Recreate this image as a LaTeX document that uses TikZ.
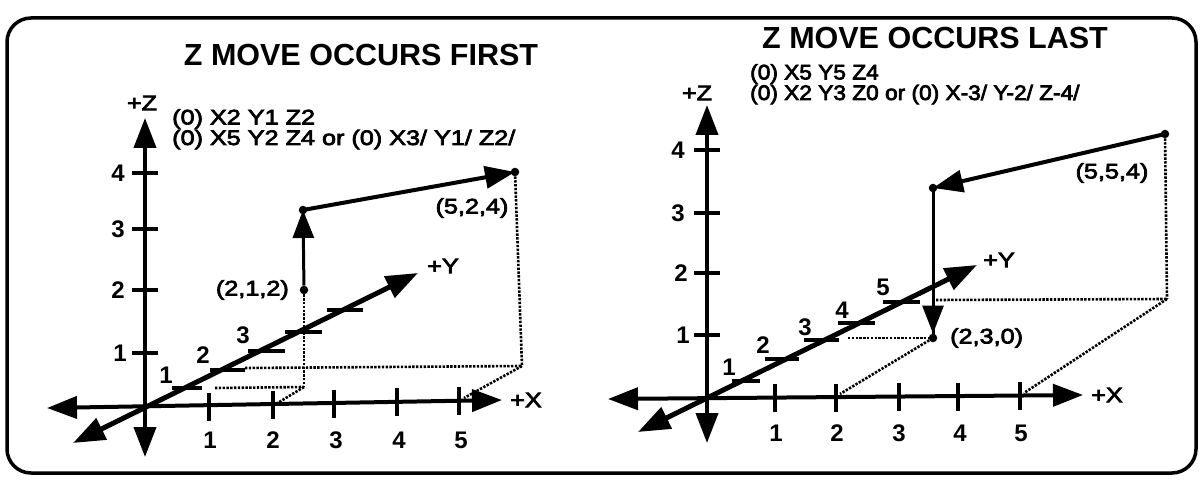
\documentclass[tikz,border=0pt]{standalone}
\usepackage{fontspec}
\setmainfont{Liberation Sans}
\newfontfamily\wideL[FakeStretch=1.2,FakeBold=3.5]{Liberation Sans}
\newfontfamily\wideR[FakeStretch=1.08,FakeBold=3.5]{Liberation Sans}
\usetikzlibrary{arrows.meta}
\begin{document}
\begin{tikzpicture}[x=1pt,y=-1pt,
  frame/.style={line width=3.5pt,rounded corners=24pt},
  axis/.style={line width=4pt,{Triangle[length=30pt,width=22pt]}-{Triangle[length=30pt,width=22pt]}},
  yaxis/.style={line width=5pt,{Triangle[length=32pt,width=23pt]}-{Triangle[length=32pt,width=23pt]}},
  tick/.style={line width=3.5pt},
  move/.style={line width=4pt,-{Triangle[length=30pt,width=22pt]}},
  zmove/.style={line width=3pt,-{Triangle[length=28pt,width=21pt]}},
  plain/.style={line width=3pt},
  dots/.style={line width=2.6pt,dash pattern=on 2.4pt off 1.4pt},
  dot/.style={circle,fill=black,inner sep=0pt,minimum size=8.5pt},
  title/.style={font=\bfseries\fontsize{30.5}{30}\selectfont,inner sep=0pt},
  codeL/.style={font=\wideL\fontsize{21}{19}\selectfont,inner sep=0pt,anchor=north west,align=left},
  codeR/.style={font=\wideR\fontsize{21}{18.5}\selectfont,inner sep=0pt,anchor=north west,align=left},
  num/.style={font=\bfseries\fontsize{24}{24}\selectfont,inner sep=0pt},
  lab/.style={font=\wideL\fontsize{21}{21}\selectfont,inner sep=0pt}]
\useasboundingbox (0,0) rectangle (1204,481);
\draw[frame] (7,18) rectangle (1196,473);

% ---------------- left panel ----------------
\node[title] (t1) at (361,55) {Z MOVE OCCURS FIRST};
\node[codeL] (c1) at (172,109) {(0) X2 Y1 Z2\\(0) X5 Y2 Z4 or (0) X3/ Y1/ Z2/};

\coordinate (O1) at (145,408);
\coordinate (Z1t) at (145,118);
\coordinate (Z1b) at (145,457);
\coordinate (X1l) at (47,408);
\coordinate (X1r) at (502,400);
\coordinate (Y1l) at (73,443);
\coordinate (Y1u) at (418,273);

% dotted construction lines
\coordinate (D1) at (522,366);
\coordinate (D1a) at (245,368);
\coordinate (D1b) at (464,398);
\coordinate (D2) at (304,387);
\coordinate (D2a) at (215,388);
\coordinate (D2b) at (276,404);

\node[dot] (P1) at (304,290) {};
\node[dot] (P2) at (303,210) {};
\node[dot] (P3) at (515,172) {};

\draw[dots] (P3) -- (D1);
\draw[dots] (D1a) -- (D1);
\draw[dots] (D1) -- (D1b);
\draw[dots] (P1) -- (D2);
\draw[dots] (D2a) -- (D2);
\draw[dots] (D2) -- (D2b);

\draw[axis] (Z1b) -- (Z1t);
\draw[axis] (X1l) -- (X1r);
\draw[yaxis] (Y1l) -- (Y1u);

\foreach \y in {173,229,290,353}{
  \draw[tick] (132,\y) -- (158,\y);
}
\node[num,anchor=east] (lz14) at (125,173) {4};
\node[num,anchor=east] (lz13) at (125,229) {3};
\node[num,anchor=east] (lz12) at (125,290) {2};
\node[num,anchor=east] (lz11) at (127,353) {1};

\foreach \x/\y in {209/406.6,273/405.1,334/403.8,397/402.4,459/401}{
  \draw[tick] (\x,\y-14) -- (\x,\y+14);
}
\node[num] (lx11) at (210,440) {1};
\node[num] (lx12) at (273,440) {2};
\node[num] (lx13) at (336,440) {3};
\node[num] (lx14) at (399,440) {4};
\node[num] (lx15) at (461,440) {5};

\draw[tick] (172,388) -- (202,388);
\draw[tick] (210,370) -- (245,370);
\draw[tick] (248,351) -- (285,351);
\draw[tick] (285,332) -- (322,332);
\draw[tick] (327,310) -- (363,310);
\node[num] (ly11) at (166,375) {1};
\node[num] (ly12) at (203,355) {2};
\node[num] (ly13) at (243,335) {3};

\node[lab] (ax1x) at (526,400) {+X};
\node[lab] (ax1y) at (443,266) {+Y};
\node[lab] (ax1z) at (142,103) {+Z};

\draw[zmove] (P1) -- (P2.center);
\draw[move] (P2.center) -- (P3.center);
\node[lab,anchor=east] (l212) at (289,290) {(2,1,2)};
\node[lab] (l524) at (472,208) {(5,2,4)};

% ---------------- right panel ----------------
\node[title] (t2) at (935,38) {Z MOVE OCCURS LAST};
\node[codeR] (c2) at (750,64) {(0) X5 Y5 Z4\\(0) X2 Y3 Z0 or (0) X-3/ Y-2/ Z-4/};

\coordinate (O2) at (707,398);
\coordinate (Z2t) at (707,105);
\coordinate (Z2b) at (707,443);
\coordinate (X2l) at (608,399);
\coordinate (X2r) at (1083,395);
\coordinate (Y2l) at (638,432);
\coordinate (Y2u) at (977,265);

\coordinate (D3) at (1167,299);
\coordinate (D3a) at (936,300);
\coordinate (D3b) at (1024,393);
\coordinate (D4a) at (848,338);
\coordinate (D4b) at (840,394);

\node[dot] (Q1) at (1165,134) {};
\node[dot] (Q2) at (933,188) {};
\node[dot] (Q3) at (933,338) {};

\draw[dots] (Q1) -- (D3);
\draw[dots] (D3a) -- (D3);
\draw[dots] (D3) -- (D3b);
\draw[dots] (D4a) -- (Q3);
\draw[dots] (Q3) -- (D4b);

\draw[axis] (Z2b) -- (Z2t);
\draw[axis] (X2l) -- (X2r);
\draw[yaxis] (Y2l) -- (Y2u);

\foreach \y in {150,213,273,335}{
  \draw[tick] (694,\y) -- (720,\y);
}
\node[num,anchor=east] (lz24) at (685,150) {4};
\node[num,anchor=east] (lz23) at (685,213) {3};
\node[num,anchor=east] (lz22) at (688,273) {2};
\node[num,anchor=east] (lz21) at (690,335) {1};

\foreach \x/\y in {775/398,836/397.5,899/397,958/396.5,1020/396}{
  \draw[tick] (\x,\y-14) -- (\x,\y+14);
}
\node[num] (lx21) at (776,433) {1};
\node[num] (lx22) at (837,433) {2};
\node[num] (lx23) at (899,433) {3};
\node[num] (lx24) at (960,433) {4};
\node[num] (lx25) at (1021,433) {5};

\draw[tick] (732,381) -- (760,381);
\draw[tick] (765,359) -- (799,359);
\draw[tick] (804,340) -- (839,340);
\draw[tick] (838,323) -- (875,323);
\draw[tick] (883,302) -- (920,302);
\node[num] (ly21) at (729,367) {1};
\node[num] (ly22) at (763,345) {2};
\node[num] (ly23) at (805,327) {3};
\node[num] (ly24) at (842,310) {4};
\node[num] (ly25) at (883,287) {5};

\node[lab] (ax2x) at (1107,395) {+X};
\node[lab] (ax2y) at (999,260) {+Y};
\node[lab] (ax2z) at (697,93) {+Z};

\draw[move] (Q1.center) -- (Q2.center);
\draw[plain] (Q2.center) -- (Q3.center);
\draw[zmove] (Q2.center) -- (Q3);
\node[lab] (l554) at (1112,173) {(5,5,4)};
\node[lab,anchor=west] (l230) at (950,338) {(2,3,0)};
\end{tikzpicture}
\end{document}
